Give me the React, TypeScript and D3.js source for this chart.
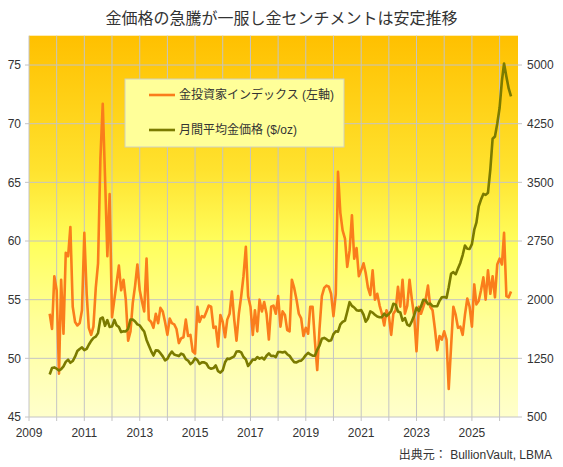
import React from 'react';
import * as d3 from 'd3';

const chartTitle = '金価格の急騰が一服し金センチメントは安定推移';
const seriesNames = ['金投資家インデックス (左軸)', '月間平均金価格 ($/oz)'];
const sourceText = '出典元： BullionVault, LBMA';

// monthly data starting October 2009
const startYear = 2009;
const startMonth = 10;

const investorIndex = [
  53.8, 52.5, 57.0,
  55.8, 48.7, 56.7, 52.1, 59.0, 58.7, 61.2, 54.4, 53.1, 52.8, 53.0, 54.1,
  60.7, 55.5, 52.6, 52.0, 52.7, 56.0, 58.1, 67.0, 71.7, 65.5, 58.7, 64.0,
  53.5, 55.0, 56.4, 57.9, 55.8, 56.7, 55.0, 51.5, 52.3, 54.7, 56.2, 58.0,
  55.8, 54.8, 54.0, 58.5, 53.3, 53.1, 52.6, 53.8, 53.0, 54.3, 54.0, 53.1,
  52.0, 53.4, 53.0, 52.9, 52.5, 51.3, 51.7, 51.8, 53.3, 51.9, 52.0, 50.6,
  50.4, 54.4, 53.1, 53.6, 53.5, 54.0, 54.5, 54.4, 52.6, 52.7, 51.0, 53.7,
  53.1, 51.8, 53.3, 53.8, 55.7, 53.3, 51.5, 53.8, 55.3, 57.0, 59.5, 55.3,
  54.4, 52.0, 54.1, 52.3, 55.0, 54.0, 54.8, 53.8, 51.6, 54.4, 54.5, 53.8,
  55.3, 52.7, 54.0, 53.7, 52.4, 52.3, 56.7, 56.0, 55.0, 53.8, 53.4, 51.9,
  52.6, 52.1, 54.4, 54.4, 51.5, 49.0, 52.5, 55.3, 56.0, 56.2, 56.1, 55.5,
  53.6, 55.5, 65.9, 62.4, 60.9, 60.2, 57.8, 59.2, 62.2, 58.5, 59.4, 57.0,
  57.5, 58.1, 57.3, 56.0, 55.4, 57.5, 55.0, 55.5, 54.5, 53.8, 52.8, 54.1,
  53.6, 52.0, 53.8, 54.1, 56.1, 54.4, 56.7, 53.8, 54.5, 56.7, 55.0, 53.6,
  50.6, 54.4, 53.8, 54.4, 55.0, 56.2, 54.4, 54.1, 52.5, 50.7, 51.9, 51.6,
  52.3, 51.6, 47.4, 51.0, 54.4, 53.7, 52.6, 52.7, 52.0, 53.7, 55.1, 54.4,
  52.7, 56.3, 54.6, 54.9, 55.8, 56.9, 55.0, 57.5, 55.5, 57.0, 55.2, 58.0,
  58.5, 58.0, 60.7, 55.3, 55.2, 55.7,
];

const goldPrice = [
  1043, 1127, 1134,
  1118, 1095, 1113, 1148, 1205, 1233, 1193, 1215, 1271, 1343, 1370, 1391,
  1356, 1372, 1424, 1474, 1510, 1528, 1572, 1756, 1772, 1666, 1739, 1652,
  1656, 1742, 1673, 1650, 1585, 1596, 1594, 1626, 1745, 1747, 1721, 1684,
  1671, 1627, 1593, 1485, 1414, 1343, 1286, 1352, 1349, 1316, 1275, 1225,
  1244, 1300, 1336, 1299, 1288, 1279, 1311, 1296, 1239, 1222, 1176, 1201,
  1251, 1227, 1179, 1198, 1199, 1181, 1131, 1117, 1125, 1159, 1086, 1068,
  1097, 1200, 1246, 1242, 1260, 1276, 1337, 1341, 1326, 1267, 1236, 1152,
  1192, 1234, 1231, 1266, 1246, 1260, 1236, 1283, 1314, 1280, 1283, 1265,
  1331, 1331, 1325, 1335, 1303, 1282, 1238, 1202, 1198, 1215, 1221, 1250,
  1291, 1320, 1300, 1285, 1284, 1359, 1413, 1500, 1511, 1495, 1471, 1480,
  1560, 1597, 1591, 1683, 1715, 1732, 1846, 1968, 1921, 1900, 1866, 1858,
  1867, 1808, 1718, 1760, 1850, 1834, 1807, 1785, 1775, 1777, 1821, 1790,
  1817, 1856, 1948, 1937, 1849, 1837, 1732, 1765, 1681, 1664, 1726, 1798,
  1898, 1855, 1913, 1999, 1992, 1943, 1951, 1918, 1916, 1916, 1985, 2030,
  2034, 2023, 2159, 2331, 2352, 2326, 2398, 2470, 2571, 2691, 2651, 2648,
  2710, 2895, 2984, 3193, 3280, 3352, 3340, 3368, 3665, 4058, 4087, 4250,
  4450, 4800, 5020, 4850, 4700, 4600,
];

const leftTicks = [45, 50, 55, 60, 65, 70, 75];
const rightTicks = [500, 1250, 2000, 2750, 3500, 4250, 5000];
const gridYears = [2009, 2010, 2011, 2012, 2013, 2014, 2015, 2016, 2017, 2018, 2019, 2020, 2021, 2022, 2023, 2024, 2025, 2026];
const yearLabels = [2009, 2011, 2013, 2015, 2017, 2019, 2021, 2023, 2025];

const W = 563;
const H = 467;
const P = { left: 29, right: 518, top: 35.7, bottom: 417 };
const FONT = '"Liberation Sans", Arial, "Noto Sans CJK JP", sans-serif';
const ORANGE = '#FA7D1C';
const OLIVE = '#7B7B00';
const GRID = '#C4C4C4';
const TEXT = '#333333';

export default function App() {
  const x = d3.scaleTime()
    .domain([new Date(2009, 0, 1), new Date(2026, 8, 1)])
    .range([P.left, P.right]);
  const yL = d3.scaleLinear().domain([45, 77.5]).range([P.bottom, P.top]);
  const yR = d3.scaleLinear().domain([500, 5375]).range([P.bottom, P.top]);

  const dates = investorIndex.map((_, i) => new Date(startYear, startMonth - 1 + i, 1));
  const lineIndex = d3.line<number>().x((_, i) => x(dates[i])).y((d) => yL(d));
  const lineGold = d3.line<number>().x((_, i) => x(dates[i])).y((d) => yR(d));

  return (
    <svg
      width={W}
      height={H}
      style={{ position: 'absolute', left: 0, top: 0, background: '#fff' }}
      fontFamily={FONT}
    >
      <defs>
        <linearGradient id="bg" x1="0" y1="0" x2="0" y2="1">
          <stop offset="0" stopColor="#FFC000" />
          <stop offset="0.35" stopColor="#FFE22E" />
          <stop offset="0.55" stopColor="#FFFF5E" />
          <stop offset="0.75" stopColor="#FFFF99" />
          <stop offset="1" stopColor="#FFFFCC" />
        </linearGradient>
        <clipPath id="plotClip">
          <rect x={P.left} y={P.top} width={P.right - P.left} height={P.bottom - P.top} />
        </clipPath>
      </defs>

      <text x={W / 2} y={24} textAnchor="middle" fontSize={16} fill={TEXT}>
        {chartTitle}
      </text>

      <rect x={P.left} y={P.top} width={P.right - P.left} height={P.bottom - P.top} fill="url(#bg)" />

      {gridYears.map((yr) => {
        const gx = x(new Date(yr, 0, 1));
        return (
          <g key={'gx' + yr}>
            <line x1={gx} x2={gx} y1={P.top} y2={P.bottom} stroke={GRID} strokeWidth={1} />
            <line x1={gx} x2={gx} y1={P.bottom} y2={P.bottom + 4} stroke={GRID} strokeWidth={1} />
          </g>
        );
      })}
      {leftTicks.map((t) => (
        <g key={'gy' + t}>
          <line x1={P.left - 4} x2={P.right + 4} y1={yL(t)} y2={yL(t)} stroke={GRID} strokeWidth={1} />
          <text x={P.left - 8} y={yL(t)} dy="0.35em" textAnchor="end" fontSize={12} fill={TEXT}>
            {t}
          </text>
        </g>
      ))}
      {rightTicks.map((t) => (
        <text key={'r' + t} x={P.right + 9} y={yR(t)} dy="0.35em" textAnchor="start" fontSize={12} fill={TEXT}>
          {t}
        </text>
      ))}
      {yearLabels.map((yr) => (
        <text key={'xl' + yr} x={x(new Date(yr, 0, 1))} y={P.bottom + 20} textAnchor="middle" fontSize={12} fill={TEXT}>
          {yr}
        </text>
      ))}

      <g clipPath="url(#plotClip)">
        <path d={lineIndex(investorIndex) || ''} fill="none" stroke={ORANGE} strokeWidth={2.6} strokeLinejoin="round" />
        <path d={lineGold(goldPrice) || ''} fill="none" stroke={OLIVE} strokeWidth={2.6} strokeLinejoin="round" />
      </g>

      <g>
        <rect x={125} y={79} width={219} height={68} fill="#FFFF99" stroke="#D0D0C0" strokeWidth={1} />
        <line x1={149} x2={175} y1={95} y2={95} stroke={ORANGE} strokeWidth={2.6} />
        <text x={179} y={95} dy="0.35em" fontSize={12} fill={TEXT}>{seriesNames[0]}</text>
        <line x1={149} x2={175} y1={130} y2={130} stroke={OLIVE} strokeWidth={2.6} />
        <text x={179} y={130} dy="0.35em" fontSize={12} fill={TEXT}>{seriesNames[1]}</text>
      </g>

      <text x={552} y={459} textAnchor="end" fontSize={12} fill={TEXT}>
        {sourceText}
      </text>
    </svg>
  );
}
